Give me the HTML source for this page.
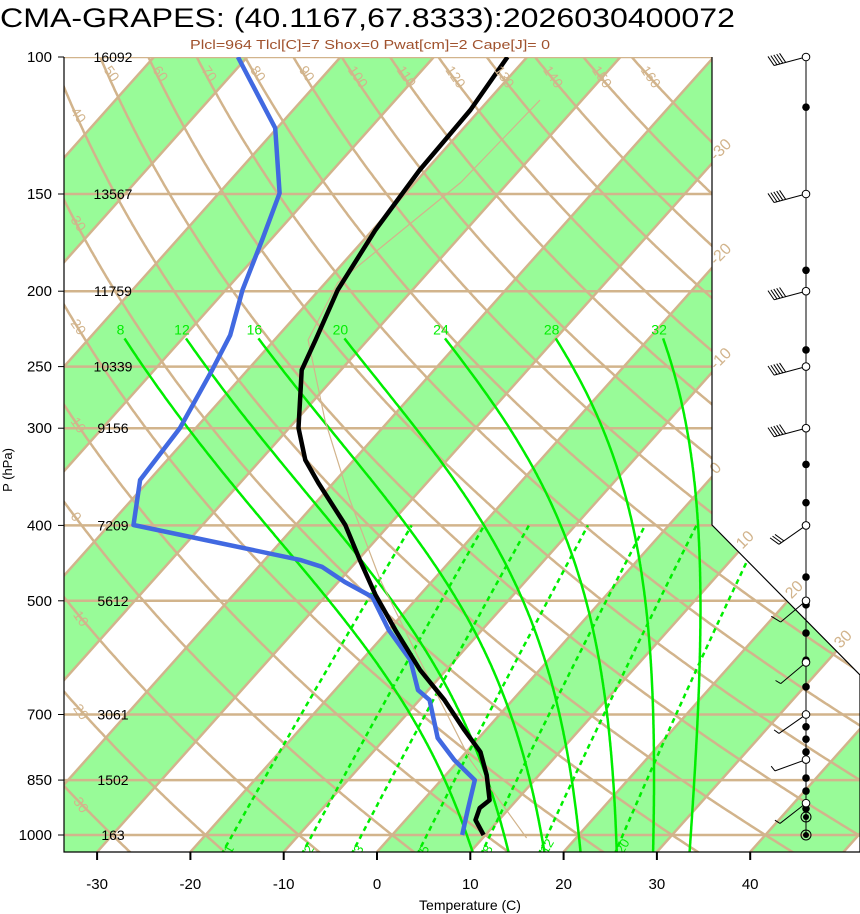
<!DOCTYPE html>
<html><head><meta charset="utf-8">
<style>
html,body{margin:0;padding:0;background:#fff;overflow:hidden;}
svg{display:block;font-family:"Liberation Sans",sans-serif;}
</style></head>
<body>
<svg id="chart" width="860" height="914" viewBox="0 0 860 914" xmlns="http://www.w3.org/2000/svg">
<defs>
<clipPath id="plotClip"><polygon points="64,57 712,57 712,525 860,675 860,852 64,852"/></clipPath>
</defs>
<text x="0" y="27" font-size="27" textLength="735" lengthAdjust="spacingAndGlyphs">CMA-GRAPES: (40.1167,67.8333):2026030400072</text>
<text x="190" y="49" font-size="13" fill="#a0522d" textLength="360" lengthAdjust="spacingAndGlyphs">Plcl=964 Tlcl[C]=7 Shox=0 Pwat[cm]=2 Cape[J]= 0</text>
<g id="plot" clip-path="url(#plotClip)"></g>
<g id="over"></g>
<polyline points="64,57 64,852 860,852" fill="none" stroke="#000" stroke-width="1.2"/>
<polyline points="712,57 712,525 860,675 860,852" fill="none" stroke="#000" stroke-width="1.2"/>
<text x="12" y="470" font-size="13" text-anchor="middle" transform="rotate(-90 12 470)">P (hPa)</text>
<text x="470" y="910" font-size="14" text-anchor="middle">Temperature (C)</text>
<g id="wind"></g>
</svg>
<script>
// ---- data ----
const pressureLevels = [100,150,200,250,300,400,500,700,850,1000];
const heightLabels = ["16092","13567","11759","10339","9156","7209","5612","3061","1502","163"];
const tempTicks = [-30,-20,-10,0,10,20,30,40];
const tempP = [100,117,139.7,167,199.3,231,252.6,299.8,329.6,352.8,399.5,443,491,545,613.6,670.8,733,782,837.5,901.8,923.3,956.6,1000];
const tempC = [-62.1,-61.0,-60.7,-59.7,-58.0,-55.6,-54.2,-49.0,-45.2,-41.6,-34.7,-29.8,-24.8,-19.3,-12.8,-7.3,-2.3,1.5,4.4,7.1,6.8,7.5,9.8];
const dewP = [100,123.4,149.6,171.8,199.3,227.8,252.6,299.8,349.7,399.5,443,452.2,472.9,494.4,545,595.7,651.2,670.8,750.5,801.2,850,928.6,1000];
const dewC = [-91.0,-80.2,-73.5,-70.9,-68.2,-65.2,-63.8,-61.7,-61.0,-57.4,-36.2,-33.2,-29.3,-24.9,-20.0,-14.8,-11.1,-8.9,-4.4,-0.5,3.6,5.7,7.5];
const parcelP = [113.6,145,195,231,293,371,470,596,801,1009];
const parcelC = [-54.5,-55.1,-58.7,-56.4,-46.9,-36.6,-25.7,-13.8,1.2,14.7];
const mixRatios = [1,2,3,5,8,12,20];
const mixLabels = ["1","2","3","5","8","12","20"];
const moistTemps = [8,12,16,20,24,28,32];
const windP = [100,150,200,250,300,400,500,600,700,800,910];
const windSpd = [50,50,50,50,50,30,10,5,5,5,5];
const windDir = [255,255,255,255,255,235,230,230,235,250,232];
const dotP = [116,150,188,238,300,334,374,466,506,550,596,645,700,726,753,782,845,878,910,925];
const ringP = [948,1000];

// ---- axes ----
const X0=377, K=9.33, SK=0.893, YB=852, Y1000=835, DEC=778;
function yP(p){return Y1000 + DEC*Math.log10(p/1000);}
function xT(T,y){return X0 + K*T + SK*(YB-y);}
function xTP(T,p){return xT(T,yP(p));}

const NS="http://www.w3.org/2000/svg";
const plot=document.getElementById('plot');
const over=document.getElementById('over');
const wind=document.getElementById('wind');
const svg=document.getElementById('chart');
function mk(tag,attrs,parent){const e=document.createElementNS(NS,tag);for(const k in attrs)e.setAttribute(k,attrs[k]);parent.appendChild(e);return e;}
function pts(arr){return arr.map(a=>a[0].toFixed(1)+','+a[1].toFixed(1)).join(' ');}
const TAN="#d2b48c", GREEN="#00ee00";

// green bands
for(let k=-160;k<=60;k+=20){
  const b=mk('polygon',{points:pts([[xT(k,YB),YB],[xT(k+10,YB),YB],[xT(k+10,57),57],[xT(k,57),57]]),fill:'#98fb98'},plot);
  
  
}
// isotherms
for(let T=-170;T<=70;T+=10){
  const l=mk('line',{x1:xT(T,YB),y1:YB,x2:xT(T,57),y2:57,stroke:TAN,'stroke-width':2.5},plot);
  
  
}
// dry adiabats
const dryLabelPos=[];
for(let th=-30;th<=160;th+=10){
  const a=[];let lab=null;
  for(let p=1060;p>=98;p*=0.995){
    const T=(th+273.15)*Math.pow(p/1000,0.2857)-273.15;
    const x=xTP(T,p), y=yP(p);
    a.push([x,y]);
    if(!lab && (x<74 || y<70)) lab=[x,y];
  }
  const l=mk('polyline',{points:pts(a),fill:'none',stroke:TAN,'stroke-width':2.5},plot);
  
  
  if(lab) dryLabelPos.push([th,lab]);
}
// horizontal pressure lines
pressureLevels.forEach(p=>{
  const l=mk('line',{x1:64,y1:yP(p),x2:860,y2:yP(p),stroke:TAN,'stroke-width':2.5},plot);
  
  
});
// mixing ratio lines
function tdFromE(e){const L=Math.log(e/6.112);return 243.5*L/(17.67-L);}
mixRatios.forEach((w,i)=>{
  const a=[];
  for(let p=1060;p>=400;p-=5){const e=w*p/(622+w);a.push([xTP(tdFromE(e),p),yP(p)]);}
  const l=mk('polyline',{points:pts(a),fill:'none',stroke:GREEN,'stroke-width':2.5,'stroke-dasharray':'5,4'},plot);
  
  
  const e=w*1035/(622+w);const lx=xTP(tdFromE(e),1035)+5, ly=yP(1035)+8;
  const t=mk('text',{x:lx,y:ly,'font-size':13,fill:GREEN,transform:`rotate(-60 ${lx} ${ly})`},plot);
  t.textContent=mixLabels[i];
  
  
});
// moist adiabats
function moistRate(T,p){
  const Tk=T+273.15, es=6.112*Math.exp(17.67*T/(T+243.5)), rs=0.622*es/(p-es);
  const Rd=287, cp=1005, Lv=2.5e6;
  return (Rd*Tk+Lv*rs)/(p*(cp+Lv*Lv*rs*0.622/(Rd*Tk*Tk)));
}
moistTemps.forEach(T0=>{
  const up=[];let T=T0;
  for(let p=1000;p>=230;p-=2){up.push([xTP(T,p),yP(p)]);T-=moistRate(T,p)*2;}
  const dn=[];T=T0;
  for(let p=1000;p<=1060;p+=2){dn.push([xTP(T,p),yP(p)]);T+=moistRate(T,p)*2;}
  const a=dn.reverse().concat(up);
  const l=mk('polyline',{points:pts(a),fill:'none',stroke:GREEN,'stroke-width':2.5},plot);
  
  
  const top=up[up.length-1];
  const t=mk('text',{x:top[0]-4,y:top[1]-4,'font-size':14,fill:GREEN,'text-anchor':'middle'},over);
  t.textContent=String(T0);
  
  
});
// parcel path
{
  const a=parcelP.map((p,i)=>[xTP(parcelC[i],p),yP(p)]);
  const l=mk('polyline',{points:pts(a),fill:'none',stroke:TAN,'stroke-width':1.2},plot);
  
  
}
// dewpoint
{
  const a=dewP.map((p,i)=>[xTP(dewC[i],p),yP(p)]);
  const l=mk('polyline',{points:pts(a),fill:'none',stroke:'#4169e1','stroke-width':4.5,'stroke-linejoin':'round'},plot);
  
  
}
// temperature
{
  const a=tempP.map((p,i)=>[xTP(tempC[i],p),yP(p)]);
  const l=mk('polyline',{points:pts(a),fill:'none',stroke:'#000','stroke-width':4.5,'stroke-linejoin':'round'},plot);
  
  
}
// dry adiabat labels
dryLabelPos.forEach(([th,[x,y]])=>{
  let lx=x, ly=y;
  if(y<72){ly=70;lx=x-2;} else {lx=70;ly=y+2;}
  const t=mk('text',{x:lx,y:ly,'font-size':14,fill:TAN,transform:`rotate(55 ${lx} ${ly})`},over);
  t.textContent=String(th);
  
  
});
// isotherm labels on right edge
for(let T=-30;T<=0;T+=10){
  const y=YB-(712-X0-K*T)/SK;
  const t=mk('text',{x:716,y:y-2,'font-size':16,fill:TAN,transform:`rotate(-45 716 ${y-2})`},over);
  t.textContent=String(T);
  
  
}
for(let T=10;T<=30;T+=10){
  let best=null;
  for(let s=0;s<=1;s+=0.002){const x=712+148*s,y=525+150*s;const xi=xT(T,y);if(best===null||Math.abs(xi-x)<best[0])best=[Math.abs(xi-x),x,y];}
  const lx=best[1]+4, ly=best[2]-2;
  const t=mk('text',{x:lx,y:ly,'font-size':16,fill:TAN,transform:`rotate(-45 ${lx} ${ly})`},over);
  t.textContent=String(T);
  
  
}
// y axis labels and heights
pressureLevels.forEach((p,i)=>{
  const y=yP(p);
  const tk=mk('line',{x1:58,y1:y,x2:64,y2:y,stroke:'#000','stroke-width':1},svg);
  
  
  const t=mk('text',{x:52,y:y+5,'font-size':15,'text-anchor':'end'},svg);
  t.textContent=String(p);
  
  
  const h=mk('text',{x:113,y:y+5,'font-size':14,'text-anchor':'middle'},svg);
  h.textContent=heightLabels[i];
  
  
});
// x ticks
tempTicks.forEach(T=>{
  const x=xT(T,YB);
  const tk=mk('line',{x1:x,y1:YB,x2:x,y2:YB+8,stroke:'#000','stroke-width':2},svg);
  
  
  const t=mk('text',{x:x,y:889,'font-size':15,'text-anchor':'middle'},svg);
  t.textContent=String(T);
  
  
});
// wind column
const WX=806;
{
  const l=mk('line',{x1:WX,y1:57,x2:WX,y2:yP(1000),stroke:'#000','stroke-width':1},wind);
  
  
}
dotP.forEach(p=>{
  const c=mk('circle',{cx:WX,cy:yP(p),r:3.8,fill:'#000'},wind);
  
  
});
ringP.forEach(p=>{
  const c=mk('circle',{cx:WX,cy:yP(p),r:5,fill:'none',stroke:'#000','stroke-width':1},wind);
  
  
  const c2=mk('circle',{cx:WX,cy:yP(p),r:3,fill:'#000'},wind);
  
  
});
windP.forEach((p,i)=>{
  const y=yP(p), d=windDir[i]*Math.PI/180;
  const ux=Math.sin(d), uy=-Math.cos(d);
  const L=33, ex=WX+ux*L, ey=y+uy*L;
  const g=mk('g',{},wind);
  
  
  mk('circle',{cx:WX,cy:y,r:3.8,fill:'#fff',stroke:'#000','stroke-width':1},g);
  mk('line',{x1:WX+ux*4,y1:y+uy*4,x2:ex,y2:ey,stroke:'#000','stroke-width':1},g);
  // feather direction: shaft direction rotated 71 degrees (screen coords)
  const a=Math.atan2(uy,ux)+71*Math.PI/180;
  const fx=Math.cos(a), fy=Math.sin(a);
  const fl=11;
  let spd=windSpd[i], pos=0;
  while(spd>=10){
    const bx=ex-ux*pos, by=ey-uy*pos;
    mk('line',{x1:bx,y1:by,x2:bx+fx*fl,y2:by+fy*fl,stroke:'#000','stroke-width':1},g);
    spd-=10;pos+=3;
  }
  if(spd>=5){
    if(pos===0) pos=0;
    const bx=ex-ux*pos, by=ey-uy*pos;
    mk('line',{x1:bx,y1:by,x2:bx+fx*fl*0.55,y2:by+fy*fl*0.55,stroke:'#000','stroke-width':1},g);
  }
});
</script>
</body></html>
